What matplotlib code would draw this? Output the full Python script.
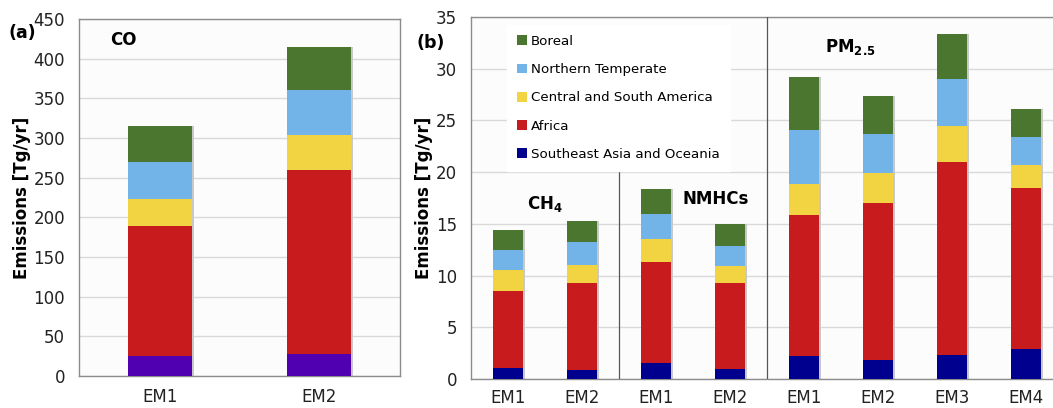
import matplotlib
matplotlib.use("Agg")
import matplotlib.pyplot as plt
import numpy as np
from matplotlib.patches import Patch

regions = ["Southeast Asia and Oceania", "Africa", "Central and South America",
           "Northern Temperate", "Boreal"]
colors_b = ["#00008e", "#c81b1d", "#f2d442", "#72b4e8", "#4a7630"]
colors_a = ["#5000b0", "#c81b1d", "#f2d442", "#72b4e8", "#4a7630"]

# Panel (a): CO, segment values per region (bottom to top)
co_labels = ["EM1", "EM2"]
co_sea = [25.5, 28]
co_afr = [163.5, 232]
co_csa = [34, 43.5]
co_nt = [46.5, 56.5]
co_bor = [45.5, 55]

# Panel (b): CH4 (EM1, EM2), NMHCs (EM1, EM2), PM2.5 (EM1..EM4)
b_labels = ["EM1", "EM2", "EM1", "EM2", "EM1", "EM2", "EM3", "EM4"]
b_sea = [1.1, 0.9, 1.5, 1.0, 2.2, 1.8, 2.3, 2.9]
b_afr = [7.4, 8.4, 9.8, 8.3, 13.7, 15.2, 18.7, 15.6]
b_csa = [2.0, 1.7, 2.2, 1.6, 3.0, 2.9, 3.5, 2.2]
b_nt = [2.0, 2.2, 2.5, 2.0, 5.2, 3.8, 4.5, 2.7]
b_bor = [1.9, 2.1, 2.4, 2.1, 5.1, 3.7, 4.4, 2.7]

plt.rcParams['font.family'] = ['DejaVu Sans']
fig = plt.figure(figsize=(10.53, 4.08), dpi=100)

grid_c = "#d9d9d9"
spine_c = "#8c8c8c"
bg = "#fcfcfc"
shadow_c = "#c8c8c8"

def style(ax, xpad):
    ax.set_facecolor(bg)
    ax.yaxis.grid(True, color=grid_c, lw=1.0, zorder=0)
    ax.set_axisbelow(True)
    for s in ax.spines.values():
        s.set_color(spine_c)
        s.set_linewidth(1.0)
    ax.tick_params(length=0, labelsize=12, colors="#222222")
    ax.tick_params(axis='x', pad=xpad)
    ax.tick_params(axis='y', pad=10)

def stacked(ax, x, series, colors, width, dx):
    totals = np.sum(np.array(series, dtype=float), axis=0)
    ax.bar(x + dx, totals, width, color=shadow_c, zorder=2)
    bottom = np.zeros(len(x))
    for vals, c in zip(series, colors):
        ax.bar(x, vals, width, bottom=bottom, color=c, zorder=3)
        bottom += np.array(vals)

# ---- Panel (a)
axa = fig.add_axes([79/1053, 1-376/408, (400-79)/1053, (376-19)/408])
style(axa, 9)
xa = np.arange(len(co_labels))
stacked(axa, xa, [co_sea, co_afr, co_csa, co_nt, co_bor], colors_a, 0.40, 0.015)
axa.set_xlim(-0.51, 1.51)
axa.set_ylim(0, 450)
axa.set_yticks(np.arange(0, 451, 50))
axa.set_xticks(xa)
axa.set_xticklabels(co_labels)
axa.set_ylabel("Emissions [Tg/yr]", fontsize=12, fontweight="bold", labelpad=1.5)
axa.text(0.097, 0.941, "CO", transform=axa.transAxes, fontsize=12, fontweight="bold",
         va="center", ha="left")
fig.text(8/1053, 1-33/408, "(a)", fontsize=12.5, fontweight="bold", va="center", ha="left")

# ---- Panel (b)
axb = fig.add_axes([471/1053, 1-379/408, (1053-471)/1053, (379-17)/408])
style(axb, 7)
axb.spines['right'].set_visible(False)
xb = np.arange(len(b_labels))
stacked(axb, xb, [b_sea, b_afr, b_csa, b_nt, b_bor], colors_b, 0.40, 0.03)
handles = [Patch(facecolor=c, label=r) for c, r in zip(colors_b, regions)]
axb.set_xlim(-0.5, (1053-508)/74)
axb.set_ylim(0, 35)
axb.set_yticks(np.arange(0, 36, 5))
axb.set_xticks(xb)
axb.set_xticklabels(b_labels)
axb.set_ylabel("Emissions [Tg/yr]", fontsize=12, fontweight="bold", labelpad=2)
axb.plot([1.5, 1.5], [0, 20], color="#555555", lw=0.9, zorder=4)
axb.axvline(3.5, color="#555555", lw=0.9, zorder=4)

leg = axb.legend(handles=handles[::-1], loc="upper left",
                 bbox_to_anchor=(507/1053, 1-25/408), bbox_transform=fig.transFigure,
                 frameon=True, fontsize=9.6, handlelength=0.75, handleheight=0.75,
                 handletextpad=0.3, labelspacing=1.14, borderpad=0.75, borderaxespad=0,
                 fancybox=False)
leg.get_frame().set_facecolor("white")
leg.get_frame().set_edgecolor("white")
leg.get_frame().set_alpha(1)
leg.set_zorder(5)

axb.text(0.5, 16.9, r"$\mathbf{CH_4}$", fontsize=12, ha="center", va="center")
axb.text(2.8, 17.4, "NMHCs", fontsize=12, fontweight="bold", ha="center", va="center")
axb.text(4.62, 32.1, r"$\mathbf{PM_{2.5}}$", fontsize=12, ha="center", va="center")
fig.text(416/1053, 1-43/408, "(b)", fontsize=12.5, fontweight="bold", va="center", ha="left")

fig.savefig("out.png", dpi=100)
